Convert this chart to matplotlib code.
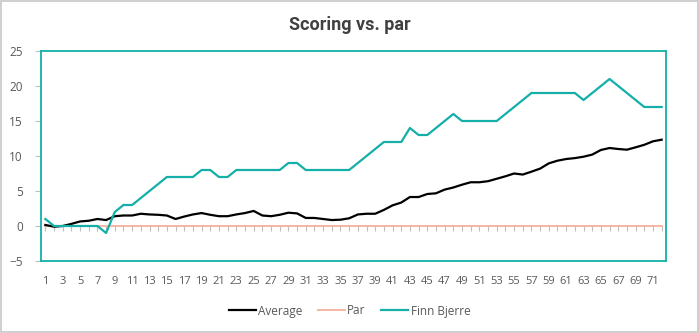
import numpy as np
import matplotlib
matplotlib.use('Agg')
import matplotlib.pyplot as plt

# data (holes 1..72)
holes = np.arange(1, 73)
average = [0.15, -0.1, 0.0, 0.3, 0.65, 0.75, 1.0, 0.85, 1.4, 1.5,
           1.5, 1.75, 1.65, 1.6, 1.5, 1.0, 1.35, 1.65, 1.85, 1.6,
           1.4, 1.4, 1.65, 1.85, 2.15, 1.5, 1.4, 1.6, 1.9, 1.8,
           1.15, 1.15, 1.0, 0.85, 0.9, 1.1, 1.65, 1.75, 1.75, 2.3,
           2.95, 3.35, 4.14, 4.14, 4.57, 4.67, 5.2, 5.5, 5.9, 6.25,
           6.25, 6.4, 6.75, 7.1, 7.5, 7.35, 7.76, 8.2, 8.95, 9.33,
           9.57, 9.7, 9.9, 10.2, 10.86, 11.14, 11.0, 10.9, 11.24, 11.6,
           12.1, 12.33]
par = [0] * 72
finn = [1, 0, 0, 0, 0, 0, 0, -1, 2, 3,
        3, 4, 5, 6, 7, 7, 7, 7, 8, 8,
        7, 7, 8, 8, 8, 8, 8, 8, 9, 9,
        8, 8, 8, 8, 8, 8, 9, 10, 11, 12,
        12, 12, 14, 13, 13, 14, 15, 16, 15, 15,
        15, 15, 15, 16, 17, 18, 19, 19, 19, 19,
        19, 19, 18, 19, 20, 21, 20, 19, 18, 17,
        17, 17]
yticks = [-5, 0, 5, 10, 15, 20, 25]

teal = '#14AFA9'
grey = '#595959'

plt.rcParams['font.family'] = ['Open Sans', 'DejaVu Sans']

fig = plt.figure(figsize=(6.99, 3.33), dpi=100)
fig.patch.set_edgecolor('#D0D0D0')
fig.patch.set_linewidth(1.5)
ax = fig.add_axes([41/699, 72/333, 625/699, 210/333])

ax.plot(holes, average, color='black', lw=1.6, label='Average', zorder=4)
ax.plot(holes, par, color='#F7B5A3', lw=1.4, label='Par', zorder=3)
ax.plot(holes, finn, color=teal, lw=1.6, label='Finn Bjerre', zorder=5)

ax.set_xlim(0.5, 72.5)
ax.set_ylim(-5, 25)
ax.set_yticks(yticks)
ax.set_xticks(holes[::2])
ax.tick_params(axis='x', length=0, pad=11, labelsize=8, labelcolor=grey)
ax.tick_params(axis='y', length=4, color='#BFBFBF', pad=9, labelsize=8.5, labelcolor=grey)
for s in ax.spines.values():
    s.set_color(teal)
    s.set_linewidth(1.3)

# small tick marks along the zero line
sec = ax.secondary_xaxis(5/30)
sec.set_xticks(holes)
sec.tick_params(axis='x', length=3.5, color='#BFBFBF', labelbottom=False, labeltop=False)
sec.spines['bottom'].set_visible(False)
sec.spines['top'].set_visible(False)

fig.text(0.5, 1 - 25/333, 'Scoring vs. par', ha='center', va='center',
         fontsize=13, fontweight='bold', color='#404040', family=['Roboto', 'DejaVu Sans'])

ax.legend(loc='center', bbox_to_anchor=(0.5, 22/333), bbox_transform=fig.transFigure,
          ncol=3, frameon=False, fontsize=8.5, labelcolor=grey,
          handlelength=2.3, handletextpad=0.2, columnspacing=1.3)

plt.savefig('out.png', dpi=100)
